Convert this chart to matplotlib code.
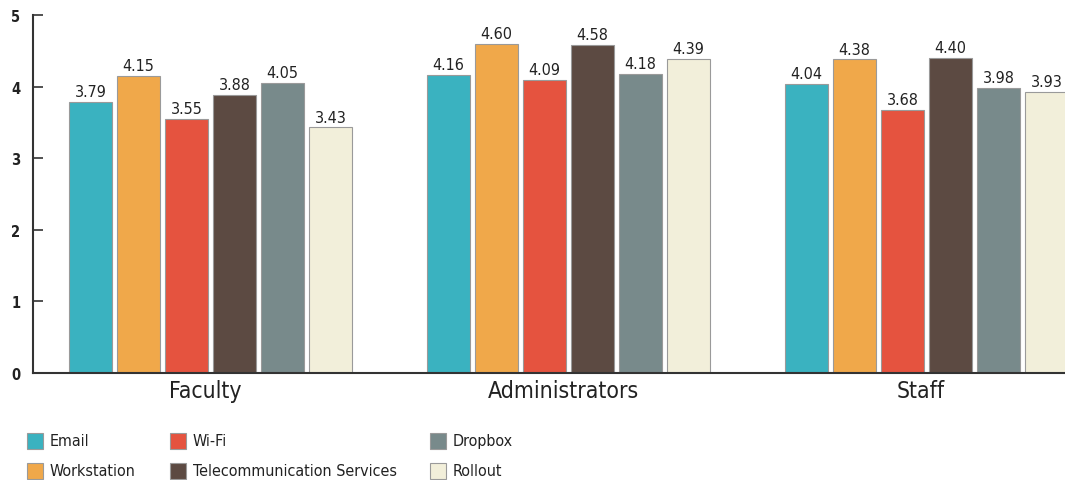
import matplotlib
matplotlib.use("Agg")
import matplotlib.pyplot as plt
import numpy as np

groups = ["Faculty", "Administrators", "Staff"]
series = ["Email", "Workstation", "Wi-Fi", "Telecommunication Services", "Dropbox", "Rollout"]
values = {
    "Email": [3.79, 4.16, 4.04],
    "Workstation": [4.15, 4.60, 4.38],
    "Wi-Fi": [3.55, 4.09, 3.68],
    "Telecommunication Services": [3.88, 4.58, 4.40],
    "Dropbox": [4.05, 4.18, 3.98],
    "Rollout": [3.43, 4.39, 3.93],
}
colors = ["#3AB2C0", "#F0A84A", "#E5533F", "#5C4A42", "#788A8B", "#F2EFDA"]
yticks = [0, 1, 2, 3, 4, 5]

plt.rcParams["font.family"] = ["DejaVu Sans"]
plt.rcParams["font.stretch"] = "condensed"

fig = plt.figure(figsize=(10.65, 4.81), dpi=100)
ax = fig.add_axes([33/1065, 107/481, 1 - 33/1065, (374-16)/481])

step = 48/358
width = 43/358
x = np.arange(len(groups))
for i, s in enumerate(series):
    pos = x + (i - 2.5) * step
    bars = ax.bar(pos, values[s], width, color=colors[i], edgecolor="#9a9a9a", linewidth=0.8, zorder=2)
    for b, v in zip(bars, values[s]):
        ax.text(b.get_x() + b.get_width()/2, v + 0.04, f"{v:.2f}", ha="center", va="bottom",
                fontsize=11.5, color="#222222", stretch="condensed")

ax.set_xlim(-0.496, 2.387)
ax.set_ylim(0, 5)
ax.set_yticks(yticks)
ax.set_yticklabels([str(t) for t in yticks], fontsize=10.5, fontweight="semibold", color="#222222")
ax.tick_params(axis="y", direction="in", length=7, width=1.2, color="#333333", pad=9)
ax.set_xticks(x - 0.015)
ax.set_xticklabels(groups, fontsize=16.5, color="#222222", stretch="condensed")
ax.tick_params(axis="x", length=0, pad=4)
for sp in ["top", "right"]:
    ax.spines[sp].set_visible(False)
ax.spines["left"].set_color("#333333")
ax.spines["bottom"].set_color("#333333")
ax.spines["left"].set_linewidth(1.5)
ax.spines["bottom"].set_linewidth(1.5)

# legend
cols_x = [27, 170, 430]
rows_y = [442, 472]
positions = {0: (0, 0), 2: (1, 0), 4: (2, 0), 1: (0, 1), 3: (1, 1), 5: (2, 1)}
for i, s in enumerate(series):
    c, r = positions[i]
    px, py = cols_x[c], rows_y[r]
    fig.patches.append(plt.Rectangle((px/1065, (481 - py - 8)/481), 16/1065, 16/481,
                                     facecolor=colors[i], edgecolor="#9a9a9a", linewidth=0.8,
                                     transform=fig.transFigure, figure=fig))
    fig.text((px + 23)/1065, (481 - py)/481, s, fontsize=11.5, va="center", ha="left",
             color="#222222", stretch="condensed")

fig.savefig("out.png", dpi=100)
